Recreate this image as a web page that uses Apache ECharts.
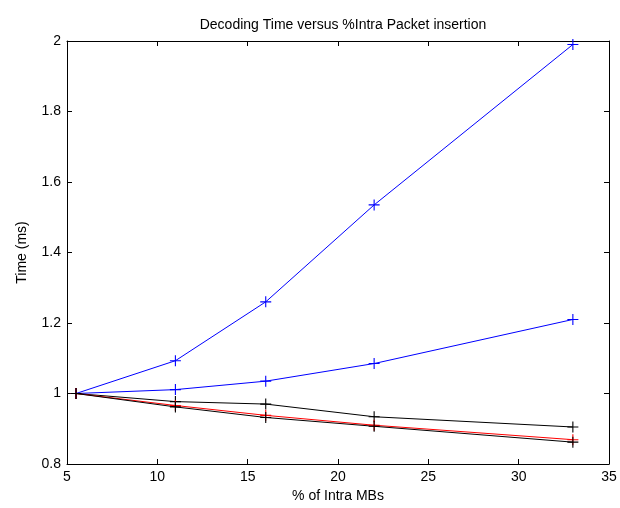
<!DOCTYPE html>
<html><head><meta charset="utf-8">
<script src="https://cdn.jsdelivr.net/npm/echarts@6/dist/echarts.min.js"></script>
<style>html,body{margin:0;padding:0;background:#fff}#c{width:620px;height:508px}</style>
</head><body><div id="c"></div>
<script>
const xValues = [5.5, 11, 16, 22, 33];
const blueHigh = [1.0, 1.093, 1.26, 1.535, 1.99];
const blueLow = [1.0, 1.011, 1.035, 1.085, 1.21];
const blackUpper = [1.0, 0.977, 0.97, 0.934, 0.905];
const redLine = [1.0, 0.966, 0.938, 0.91, 0.869];
const blackLower = [1.0, 0.962, 0.932, 0.907, 0.862];
const xTicks = [5, 10, 15, 20, 25, 30, 35];
const yTicks = [0.8, 1, 1.2, 1.4, 1.6, 1.8, 2];

const plus = 'path://M4.5,0h1v10h-1zM0,4.5h10v1h-10z';
function mk(name, vals, color, size) {
  return {
    name: name, type: 'line', data: xValues.map((x, i) => [x, vals[i]]),
    symbol: plus, symbolSize: size || 11, showSymbol: true,
    lineStyle: {color: color, width: 1}, itemStyle: {color: color},
    animation: false, z: 3
  };
}
const font = 'Liberation Sans, Arial, sans-serif';
const fs = 14;
const chart = echarts.init(document.getElementById('c'));
chart.setOption({
  backgroundColor: '#fff',
  animation: false,
  title: {text: 'Decoding Time versus %Intra Packet insertion', left: 338, top: 13, textAlign: 'center',
    textStyle: {fontFamily: font, fontSize: fs, fontWeight: 'normal', color: '#000'}},
  grid: {left: 67, right: 11, top: 41, bottom: 41, show: false},
  xAxis: [{
    type: 'value', min: 5, max: 35, interval: 5, position: 'bottom',
    name: '% of Intra MBs', nameLocation: 'middle', nameGap: 25,
    nameTextStyle: {fontFamily: font, fontSize: fs, color: '#000'},
    axisLine: {lineStyle: {color: '#000', width: 1}},
    axisTick: {inside: true, length: 5, lineStyle: {color: '#000'}},
    axisLabel: {fontFamily: font, fontSize: fs, color: '#000', margin: 6},
    splitLine: {show: false}
  }, {
    type: 'value', min: 5, max: 35, interval: 5, position: 'top',
    axisLine: {lineStyle: {color: '#000', width: 1}},
    axisTick: {inside: true, length: 5, lineStyle: {color: '#000'}},
    axisLabel: {show: false}, splitLine: {show: false}
  }],
  yAxis: [{
    type: 'value', min: 0.8, max: 2, interval: 0.2, position: 'left',
    name: 'Time (ms)', nameLocation: 'middle', nameGap: 38, nameRotate: 90,
    nameTextStyle: {fontFamily: font, fontSize: fs, color: '#000'},
    axisLine: {show: true, lineStyle: {color: '#000', width: 1}},
    axisTick: {show: true, inside: true, length: 5, lineStyle: {color: '#000'}},
    axisLabel: {fontFamily: font, fontSize: fs, color: '#000', margin: 6,
      formatter: v => String(Math.round(v * 10) / 10)},
    splitLine: {show: false}
  }, {
    type: 'value', min: 0.8, max: 2, interval: 0.2, position: 'right',
    axisLine: {show: true, lineStyle: {color: '#000', width: 1}},
    axisTick: {show: true, inside: true, length: 5, lineStyle: {color: '#000'}},
    axisLabel: {show: false}, splitLine: {show: false}
  }],
  series: [
    mk('blueHigh', blueHigh, '#0000ff'),
    mk('blueLow', blueLow, '#0000ff'),
    mk('blackUpper', blackUpper, '#000000'),
    mk('red', redLine, '#ff0000'),
    mk('blackLower', blackLower, '#000000')
  ]
});
</script></body></html>
